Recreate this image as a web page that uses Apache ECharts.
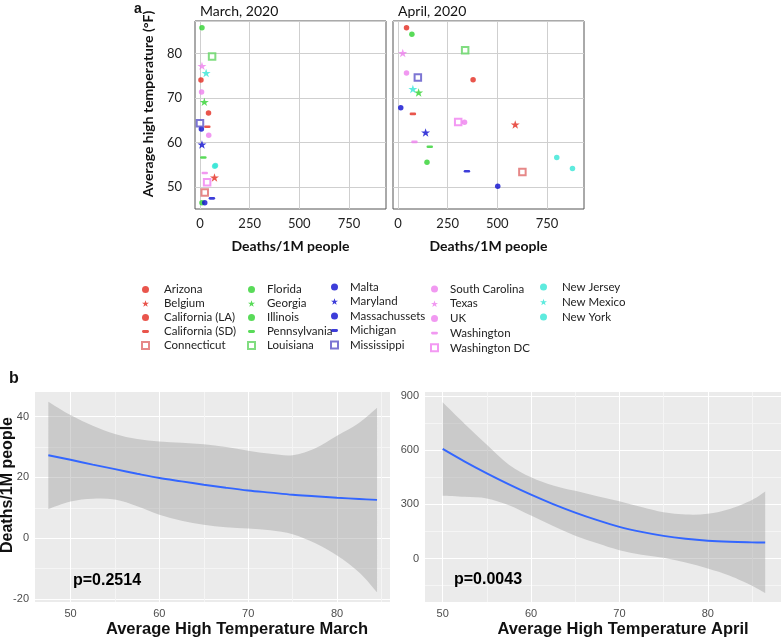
<!DOCTYPE html>
<html>
<head>
<meta charset="utf-8">
<script src="https://cdn.jsdelivr.net/npm/echarts@6/dist/echarts.min.js"></script>
<style>
  html, body { margin: 0; padding: 0; background: #fff; }
  #chart { width: 784px; height: 639px; }
</style>
</head>
<body>
<div id="chart"></div>
<script>
// ---- data ----
const states = ['Arizona', 'Belgium', 'California (LA)', 'California (SD)', 'Connecticut',
  'Florida', 'Georgia', 'Illinois', 'Pennsylvania', 'Louisiana',
  'Malta', 'Maryland', 'Massachussets', 'Michigan', 'Mississippi',
  'South Carolina', 'Texas', 'UK', 'Washington', 'Washington DC',
  'New Jersey', 'New Mexico', 'New York'];
const marchDeaths = [5, 73, 43, 37, 24, 10, 22, 10, 17, 61, 7, 10, 24, 60, 0, 8, 10, 44, 24, 36, 78, 31, 74];
const marchTemp = [74.0, 52.1, 66.6, 63.5, 48.7, 85.8, 69.1, 46.4, 56.6, 79.3, 63.0, 59.5, 46.4, 47.4, 64.3, 71.3, 77.2, 61.6, 53.1, 51.0, 54.8, 75.6, 54.6];
const aprilDeaths = [43, 590, 378, 75, 626, 70, 104, 146, 160, 338, 14, 139, 502, 347, 100, 43, 24, 335, 83, 303, 799, 75, 878];
const aprilTemp = [85.8, 64.0, 74.1, 66.4, 53.3, 84.3, 71.2, 55.5, 59.0, 80.7, 67.8, 62.2, 50.1, 53.5, 74.6, 75.6, 80.1, 64.5, 60.1, 64.6, 56.6, 72.0, 54.1];

// loess fits (panel b)
const marchFitX = [47.5, 50, 52.5, 55, 57.5, 60, 62.5, 65, 67.5, 70, 72.5, 75, 77.5, 80, 82.5, 84.5];
const marchFit = [27.3, 25.8, 24.2, 22.7, 21.2, 19.8, 18.7, 17.6, 16.6, 15.7, 15.0, 14.3, 13.8, 13.3, 12.9, 12.6];
const marchUpper = [44.9, 40.5, 37.0, 34.3, 32.6, 31.8, 31.4, 30.9, 30.0, 28.8, 27.8, 27.3, 29.5, 33.7, 38.0, 42.9];
const marchLower = [9.6, 12.1, 13.0, 12.7, 10.5, 7.7, 5.7, 4.4, 3.6, 3.2, 2.6, 1.3, -1.6, -5.7, -11.3, -17.8];

const aprilFitX = [50, 52.5, 55, 57.5, 60, 62.5, 65, 67.5, 70, 72.5, 75, 77.5, 80, 82.5, 85, 86.5];
const aprilFit = [607, 537, 472, 411, 354, 302, 255, 213, 176, 148, 126, 110, 99, 93, 90, 89];
const aprilUpper = [865, 745, 630, 520, 450, 405, 375, 345, 318, 285, 256, 244, 248, 275, 325, 372];
const aprilLower = [348, 342, 333, 295, 238, 180, 127, 85, 47, 22, 5, -22, -55, -95, -150, -190];

const pValues = ['p=0.2514', 'p=0.0043'];

// ---- styles ----
const red = '#e42a1f', green = '#2fd22f', blue = '#0d0dcf', pink = '#ee80ee', cyan = '#36e6d6';
const stateColor = [red, red, red, red, '#e06a6a',
  green, green, green, green, '#62d462',
  blue, blue, blue, blue, '#5b52c8',
  pink, pink, pink, pink, '#f080f0',
  cyan, cyan, cyan];
const stateShape = ['dot', 'star', 'dot', 'dash', 'square',
  'dot', 'star', 'dot', 'dash', 'square',
  'dot', 'star', 'dot', 'dash', 'square',
  'dot', 'star', 'dot', 'dash', 'square',
  'dot', 'star', 'dot'];
const symbols = {
  dot: 'circle',
  star: 'path://M50,0 L61.8,35.1 L98.9,35.1 L69.1,56.7 L80.3,91.9 L50,70.2 L19.7,91.9 L30.9,56.7 L1.1,35.1 L38.2,35.1 Z',
  dash: 'path://M2,0 L8,0 A2,2 0 0 1 8,4 L2,4 A2,2 0 0 1 2,0 Z',
  square: 'emptyRect'
};
const sizes = { dot: 5.5, star: 9, dash: 6.5, square: 6.5 };

const fontA = 'Lato';
const fontB = '"Liberation Sans", Arial, sans-serif';
const clear = 'rgba(0,0,0,0)';

// split line colours repeat along the ticks; only chosen slots are visible
function cycle(len, slots) {
  const arr = [];
  for (let i = 0; i < len; i++) arr.push(slots[i] || clear);
  return arr;
}

function scatterSeries(i, month) {
  const xs = month === 0 ? marchDeaths : aprilDeaths;
  const ys = month === 0 ? marchTemp : aprilTemp;
  const shape = stateShape[i];
  return {
    name: states[i],
    type: 'scatter',
    xAxisIndex: month,
    yAxisIndex: month,
    symbol: symbols[shape],
    symbolSize: sizes[shape],
    symbolKeepAspect: true,
    itemStyle: { color: stateColor[i], borderColor: stateColor[i], borderWidth: shape === 'square' ? 1.2 : 0 },
    data: [[xs[i], ys[i]]],
    z: 3
  };
}

function curve(pts) {
  let d = '';
  for (let i = 0; i < pts.length - 1; i++) {
    const p0 = pts[Math.max(i - 1, 0)], p1 = pts[i], p2 = pts[i + 1], p3 = pts[Math.min(i + 2, pts.length - 1)];
    const c1 = [p1[0] + (p2[0] - p0[0]) / 6, p1[1] + (p2[1] - p0[1]) / 6];
    const c2 = [p2[0] - (p3[0] - p1[0]) / 6, p2[1] - (p3[1] - p1[1]) / 6];
    d += ' C' + c1.join(',') + ' ' + c2.join(',') + ' ' + p2.join(',');
  }
  return d;
}

function bandSeries(xs, lo, hi, idx) {
  return {
    type: 'custom',
    xAxisIndex: idx,
    yAxisIndex: idx,
    silent: true,
    z: 2,
    data: xs.map((x, i) => [x, lo[i], hi[i]]),
    encode: { x: 0, y: [1, 2] },
    renderItem: function (params, api) {
      if (params.dataIndex !== 0) return null;
      const top = xs.map((x, i) => api.coord([x, hi[i]]));
      const bot = xs.map((x, i) => api.coord([x, lo[i]])).reverse();
      const d = 'M' + top[0].join(',') + curve(top) + ' L' + bot[0].join(',') + curve(bot) + ' Z';
      return {
        type: 'path',
        shape: { pathData: d },
        style: { fill: 'rgba(153,153,153,0.4)', stroke: null }
      };
    }
  };
}

function fitSeries(xs, ys, idx) {
  return {
    type: 'line',
    xAxisIndex: idx,
    yAxisIndex: idx,
    smooth: 0.35,
    symbol: 'none',
    silent: true,
    lineStyle: { color: '#3366ff', width: 1.9 },
    data: xs.map((x, i) => [x, ys[i]]),
    z: 3
  };
}

const series = [];
for (let i = 0; i < states.length; i++) {
  series.push(scatterSeries(i, 0));
  series.push(scatterSeries(i, 1));
}
series.push(bandSeries(marchFitX, marchLower, marchUpper, 2));
series.push(bandSeries(aprilFitX, aprilLower, aprilUpper, 3));
series.push(fitSeries(marchFitX, marchFit, 2));
series.push(fitSeries(aprilFitX, aprilFit, 3));

const gridGray = '#cfcfcf';

// panel a axes
function deathAxis(gridIndex) {
  return {
    type: 'value', gridIndex: gridIndex, min: -25, max: 936, interval: 25,
    axisLine: { show: false }, axisTick: { show: false },
    splitLine: { show: true, lineStyle: { color: cycle(10, { 1: gridGray }), width: 1 } },
    axisLabel: {
      margin: 8, fontSize: 13, color: '#222', fontFamily: fontA,
      formatter: v => (Math.abs(v % 250) < 1e-6 ? String(v) : '')
    },
    name: 'Deaths/1M people', nameLocation: 'middle', nameGap: 30,
    nameTextStyle: { fontSize: 14, fontWeight: 'bold', color: '#111', fontFamily: fontA }
  };
}
function tempAxis(gridIndex, labels) {
  return {
    type: 'value', gridIndex: gridIndex, min: 45, max: 87.3, interval: 5,
    axisLine: { show: false }, axisTick: { show: false },
    splitLine: { show: true, lineStyle: { color: cycle(2, { 1: gridGray }), width: 1 } },
    axisLabel: {
      show: labels, margin: 13, fontSize: 13, color: '#222', fontFamily: fontA,
      formatter: v => (Math.abs(v % 10) < 1e-6 ? String(v) : '')
    }
  };
}
// panel b axes (ggplot look)
const minorC = '#f5f5f5', majorC = '#ffffff';
function ggAxis(gridIndex, min, max, interval, major, colors, name, pad) {
  const ax = {
    type: 'value', gridIndex: gridIndex, min: min, max: max, interval: interval,
    axisLine: { show: false }, axisTick: { show: false },
    splitLine: { show: true, lineStyle: { color: colors, width: 1 } },
    axisLabel: {
      margin: 6, fontSize: 11, color: '#4d4d4d', fontFamily: fontB,
      formatter: v => (Math.abs(v % major) < 1e-6 ? String(Math.round(v)) : '')
    }
  };
  if (name) {
    ax.name = name;
    ax.nameLocation = 'middle';
    ax.nameGap = 19;
    ax.nameTextStyle = { fontSize: 16.5, fontWeight: 'bold', color: '#111', fontFamily: fontB, padding: [0, 0, 0, pad] };
  }
  return ax;
}

const legendPos = [
  { left: 141, top: 282.5, pad: 11, gap: 0 },
  { left: 247, top: 282.5, pad: 8, gap: 0 },
  { left: 330, top: 280, pad: 8, gap: 0.5 },
  { left: 430, top: 282, pad: 8, gap: 0.7 },
  { left: 540, top: 280, pad: 11, gap: 1 }
];
const legendCols = [states.slice(0, 5), states.slice(5, 10), states.slice(10, 15), states.slice(15, 20), states.slice(20)];

const option = {
  animation: false,
  backgroundColor: '#fff',
  title: [
    { text: 'a', left: 134, top: 2, padding: 0, textStyle: { fontSize: 14, fontWeight: 'bold', color: '#111', fontFamily: fontB } },
    { text: 'March, 2020', left: 200, top: 4, padding: 0, textStyle: { fontSize: 14, fontWeight: 'normal', color: '#111', fontFamily: fontA } },
    { text: 'April, 2020', left: 398, top: 4, padding: 0, textStyle: { fontSize: 14, fontWeight: 'normal', color: '#111', fontFamily: fontA } },
    { text: 'b', left: 9, top: 371, padding: 0, textStyle: { fontSize: 16, fontWeight: 'bold', color: '#111', fontFamily: fontB } }
  ],
  legend: legendCols.map((col, k) => ({
    data: col,
    orient: 'vertical',
    left: legendPos[k].left,
    top: legendPos[k].top,
    padding: 0,
    itemGap: legendPos[k].gap,
    itemWidth: 7,
    itemHeight: 7,
    selectedMode: false,
    textStyle: { fontSize: 11.5, color: '#222', fontFamily: fontA, lineHeight: 14, padding: [0, 0, 0, legendPos[k].pad - 1] }
  })),
  grid: [
    { left: 195, top: 21, width: 191, height: 188, show: true, backgroundColor: '#fff', borderColor: '#555', borderWidth: 1 },
    { left: 393, top: 21, width: 191, height: 188, show: true, backgroundColor: '#fff', borderColor: '#555', borderWidth: 1 },
    { left: 35, top: 392, width: 355, height: 212, show: true, backgroundColor: '#ebebeb', borderWidth: 0 },
    { left: 425, top: 392, width: 358, height: 212, show: true, backgroundColor: '#ebebeb', borderWidth: 0 }
  ],
  xAxis: [
    deathAxis(0),
    deathAxis(1),
    ggAxis(2, 46, 85.96, 1, 10, cycle(10, { 4: majorC, 9: minorC }), 'Average High Temperature March', 49),
    ggAxis(3, 48, 88.29, 1, 10, cycle(10, { 2: majorC, 7: minorC }), 'Average High Temperature April', 40)
  ],
  yAxis: [
    tempAxis(0, true),
    tempAxis(1, false),
    ggAxis(2, -21, 48.1, 1, 20, cycle(20, { 1: majorC, 11: minorC })),
    ggAxis(3, -240, 922, 30, 300, cycle(10, { 8: majorC, 3: minorC }))
  ],
  graphic: [
    { type: 'text', x: 148, y: 104, rotation: Math.PI / 2,
      style: { text: 'Average high temperature (°F)', textAlign: 'center', textVerticalAlign: 'middle', font: 'bold 14px Lato', fill: '#111' } },
    { type: 'text', x: 8, y: 485, rotation: Math.PI / 2,
      style: { text: 'Deaths/1M people', textAlign: 'center', textVerticalAlign: 'middle', font: 'bold 16px "Liberation Sans"', fill: '#111' } },
    { type: 'text', x: 73, y: 581, z: 10,
      style: { text: pValues[0], textAlign: 'left', textVerticalAlign: 'middle', font: 'bold 16px "Liberation Sans"', fill: '#000' } },
    { type: 'text', x: 454, y: 580, z: 10,
      style: { text: pValues[1], textAlign: 'left', textVerticalAlign: 'middle', font: 'bold 16px "Liberation Sans"', fill: '#000' } }
  ],
  series: series
};

const chart = echarts.init(document.getElementById('chart'), null, { renderer: 'canvas' });
chart.setOption(option);
</script>
</body>
</html>
